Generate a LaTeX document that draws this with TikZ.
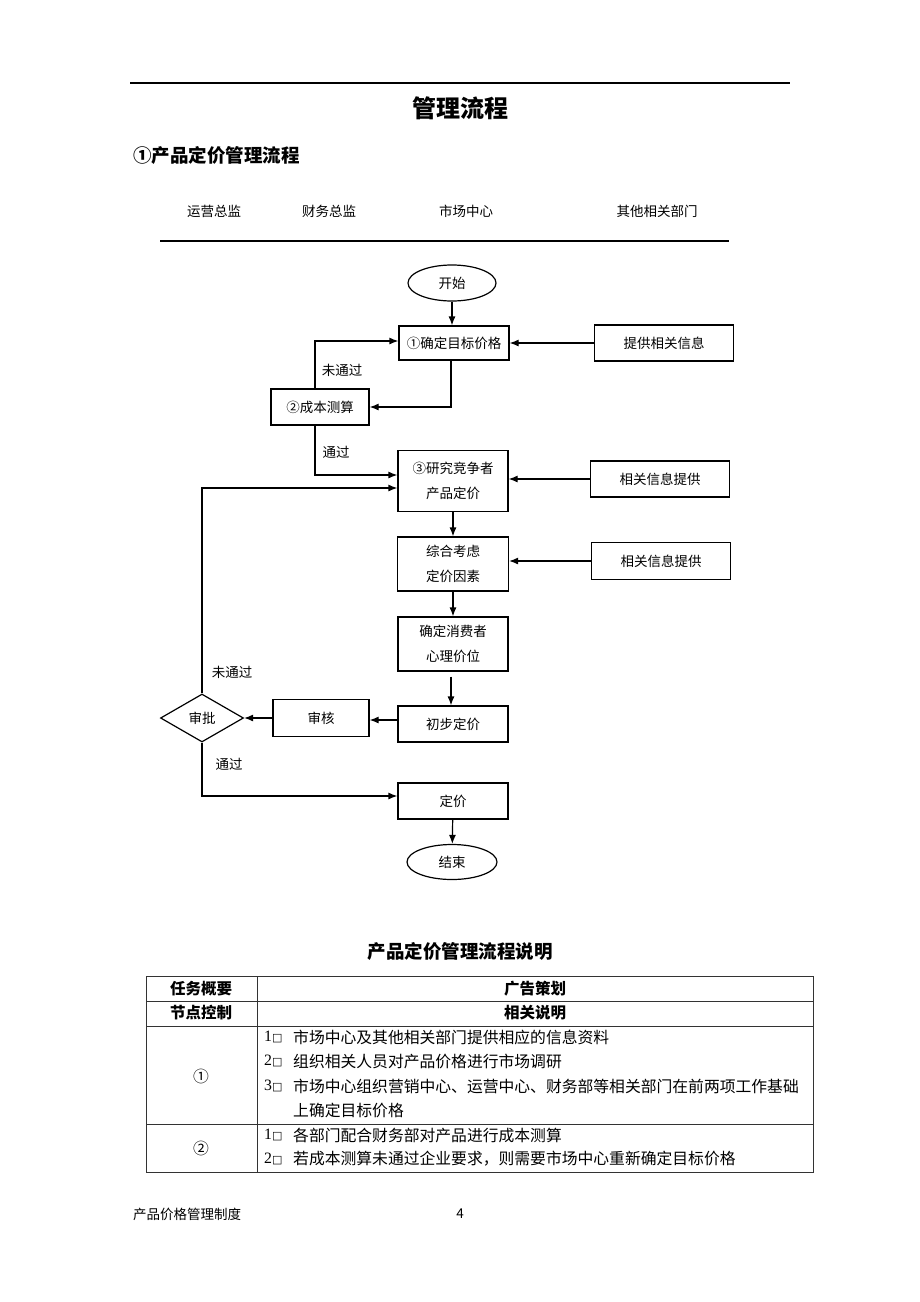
\documentclass[tikz,border=0pt]{standalone}
\usepackage{fontspec}
\setmainfont{Noto Sans CJK SC}
\newfontfamily\numfont{Liberation Serif}
\newfontfamily\symfont{DejaVu Sans}
\usetikzlibrary{shapes.geometric,arrows.meta}
\newcommand{\boite}{{\symfont\fontsize{11}{11}\selectfont □}}

\begin{document}
\begin{tikzpicture}[x=1pt,y=-1pt,
    txt/.style={inner sep=0pt,font=\fontsize{13.5}{16}\selectfont},
    box/.style={draw,line width=1.2pt,inner sep=0pt,minimum height=36pt,align=center,font=\fontsize{13.5}{25}\selectfont},
    term/.style={draw,ellipse,line width=1.2pt,inner sep=0pt,minimum width=88pt,minimum height=36pt,font=\fontsize{13.5}{16}\selectfont},
    choix/.style={draw,diamond,line width=1.2pt,inner sep=0pt,minimum width=83pt,minimum height=48pt,font=\fontsize{13.5}{16}\selectfont},
    fl/.style={line width=1.2pt,-{Latex[length=9pt,width=7pt]}},
    cell/.style={inner sep=0pt,anchor=west,font=\fontsize{15.8}{18}\selectfont},
    head/.style={inner sep=0pt,font=\bfseries\fontsize{15.5}{18}\selectfont}]
            \useasboundingbox (0,0) rectangle (920,1302);
            \fill[white] (0,0) rectangle (920,1302);
            \draw[line width=1.5pt] (130,83) -- (790,83);
            \node[inner sep=0pt,font=\bfseries\fontsize{24}{28}\selectfont] (titre) at (460,108) {管理流程};
            \node[inner sep=0pt,anchor=west,font=\bfseries\fontsize{18.5}{22}\selectfont] (soustitre) at (133,155) {①产品定价管理流程};
            \node[txt] (r1) at (214,211) {运营总监};
            \node[txt] (r2) at (329,211) {财务总监};
            \node[txt] (r3) at (466,211) {市场中心};
            \node[txt] (r4) at (657,211) {其他相关部门};
            \draw[line width=1.5pt] (160,241) -- (729,241);
            \node[term] (s0) at (452,283) {开始};
            \node[box,minimum width=110pt,minimum height=34pt] (p1) at (454,343) {①确定目标价格};
            \node[box,minimum width=139pt] (i1) at (664,343) {提供相关信息};
            \node[box,minimum width=98pt] (p2) at (320,407) {②成本测算};
            \node[box,minimum width=110pt,minimum height=61pt] (p3) at (453,481) {③研究竞争者\\产品定价};
            \node[box,minimum width=139pt] (i2) at (660,479) {相关信息提供};
            \node[box,minimum width=111pt,minimum height=54pt] (p4) at (453,564) {综合考虑\\定价因素};
            \node[box,minimum width=139pt,minimum height=37pt] (i3) at (661,561) {相关信息提供};
            \node[box,minimum width=110pt,minimum height=54pt] (p5) at (453,644) {确定消费者\\心理价位};
            \node[box,minimum width=110pt] (p6) at (453,724) {初步定价};
            \node[box,minimum width=96pt,minimum height=37pt] (p7) at (321,718) {审核};
            \node[choix] (d1) at (202,718) {审批};
            \node[box,minimum width=110pt] (p8) at (453,801) {定价};
            \node[term,minimum width=90pt,minimum height=35pt] (e0) at (452,862) {结束};
            \node[txt] (l1) at (342,370) {未通过};
            \node[txt] (l2) at (336,452) {通过};
            \node[txt] (l3) at (232,672) {未通过};
            \node[txt] (l4) at (229,764) {通过};
            \draw[fl] (s0) -- (s0 |- p1.north);
            \draw[fl] (i1) -- (p1);
            \draw[fl] ([xshift=-3pt]p1.south) |- (p2);
            \draw[fl] ([xshift=-5pt]p2.north) |- ([yshift=2pt]p1.west);
            \draw[fl] ([xshift=-5pt]p2.south) |- ([yshift=6pt]p3.west);
            \draw[fl] (i2.west) -- (i2.west -| p3.east);
            \draw[fl] (d1.north) |- ([yshift=-7pt]p3.west);
            \draw[fl] (p3) -- (p4);
            \draw[fl] (i3.west) -- (i3.west -| p4.east);
            \draw[fl] (p4) -- (p5);
            \draw[fl] ([xshift=-2pt,yshift=-5pt]p5.south) -- ([xshift=-2pt]p6.north);
            \draw[fl] ([yshift=4pt]p6.west) -- ([yshift=4pt]p6.west -| p7.east);
            \draw[fl] (p7) -- (d1);
            \draw[fl] (d1.south) |- ([yshift=5pt]p8.west);
            \draw[fl] (p8) -- (e0);
            \node[inner sep=0pt,font=\bfseries\fontsize{18.5}{22}\selectfont] (ttab) at (460,951) {产品定价管理流程说明};
            \draw[line width=1pt,black!80] (146,976) rectangle (813,1172);
            \draw[line width=1pt,black!80] (146,1001) -- (813,1001);
            \draw[line width=1pt,black!80] (146,1026) -- (813,1026);
            \draw[line width=1pt,black!80] (146,1124) -- (813,1124);
            \draw[line width=1pt,black!80] (257,976) -- (257,1172);
            \node[head] (h1) at (201,989) {任务概要};
            \node[head] (h2) at (535,989) {广告策划};
            \node[head] (h3) at (201,1013) {节点控制};
            \node[head] (h4) at (535,1013) {相关说明};
            \node[inner sep=0pt,font=\fontsize{15.8}{18}\selectfont] (n1) at (201,1076) {①};
            \node[inner sep=0pt,font=\fontsize{15.8}{18}\selectfont] (n2) at (201,1148) {②};
            \node[cell] (k1) at (264,1037) {\numfont 1\boite};
            \node[cell] (k2) at (264,1061) {\numfont 2\boite};
            \node[cell] (k3) at (264,1086) {\numfont 3\boite};
            \node[cell] (k4) at (264,1135) {\numfont 1\boite};
            \node[cell] (k5) at (264,1159) {\numfont 2\boite};
            \node[cell] (c1) at (293,1037) {市场中心及其他相关部门提供相应的信息资料};
            \node[cell] (c2) at (293,1061) {组织相关人员对产品价格进行市场调研};
            \node[cell] (c3) at (293,1086) {市场中心组织营销中心、运营中心、财务部等相关部门在前两项工作基础};
            \node[cell] (c4) at (293,1110) {上确定目标价格};
            \node[cell] (c5) at (293,1135) {各部门配合财务部对产品进行成本测算};
            \node[cell] (c6) at (293,1159) {若成本测算未通过企业要求，则需要市场中心重新确定目标价格};
            \node[inner sep=0pt,anchor=west,font=\fontsize{13.5}{16}\selectfont] (pied) at (133,1214) {产品价格管理制度};
            \node[inner sep=0pt,font=\fontsize{13.5}{16}\selectfont] (page) at (460,1214) {4};
        \end{tikzpicture}
\end{document}
